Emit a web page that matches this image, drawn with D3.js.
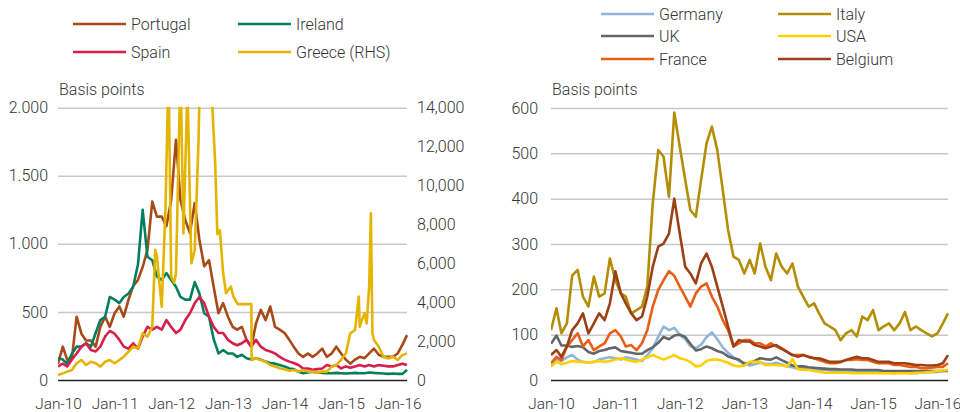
<!DOCTYPE html>
<html>
<head>
<meta charset="utf-8">
<style>
    body { margin: 0; background: #fff; }
    svg text { font-family: Roboto, "Open Sans", sans-serif; font-weight: 300; font-size: 16px; fill: #333; }
    svg .xaxis text { font-size: 15.4px; }
</style>
</head>
<body>
<svg id="chart" width="960" height="412"></svg>

<script src="https://cdnjs.cloudflare.com/ajax/libs/d3/7.8.5/d3.min.js"></script>
<script>
    // monthly observations, Jan-10 .. Mar-16
    const months = d3.timeMonth.range(new Date(2010, 0, 1), new Date(2016, 3, 1));

    // left panel (bp)
    const portugal = [120,245,150,160,465,340,290,290,245,390,465,390,490,540,465,590,690,735,830,955,
        1310,1200,1200,1130,1320,1765,1320,1175,1080,1300,1030,835,880,685,490,565,465,390,370,390,
        295,245,415,515,440,540,390,370,345,295,245,195,170,195,170,195,230,170,195,245,
        195,150,120,150,170,160,195,230,185,170,170,170,195,260,330];
    const ireland = [160,150,120,195,245,245,270,245,345,440,465,610,590,565,610,635,685,850,1250,905,
        880,760,735,785,735,685,610,590,590,720,635,490,465,300,195,220,195,195,170,185,
        160,150,160,150,135,125,120,110,100,85,80,60,50,55,60,55,52,50,50,52,
        50,48,50,52,50,50,55,52,50,48,45,48,45,45,75];
    const spain = [100,120,100,150,195,245,270,220,210,245,320,360,340,295,245,230,270,230,320,390,
        370,390,370,440,390,345,370,440,490,565,610,565,465,390,345,345,295,270,255,270,
        295,245,295,245,220,210,195,170,150,135,125,110,85,85,75,80,85,110,100,110,
        85,100,90,100,110,100,110,100,110,105,100,100,110,120,110];
    // Greece (RHS), own dates: spikes run off the top of the chart
    const greeceDates = ["2010-01-01","2010-02-01","2010-03-01","2010-04-01","2010-05-01","2010-06-01",
        "2010-07-01","2010-08-01","2010-09-01","2010-10-01","2010-11-01","2010-12-01",
        "2011-01-01","2011-02-01","2011-03-01","2011-04-01","2011-05-01","2011-06-01",
        "2011-07-01","2011-08-01","2011-09-01","2011-09-20","2011-10-01","2011-11-01",
        "2011-11-25","2011-12-15","2012-01-01","2012-01-20","2012-02-01","2012-03-01",
        "2012-03-20","2012-04-15","2012-05-10","2012-06-01","2012-06-25","2012-07-05",
        "2012-08-20","2012-09-10","2012-10-01","2012-10-10","2012-10-25","2012-11-10",
        "2012-12-01","2012-12-20","2013-01-01","2013-01-20","2013-02-05","2013-03-05",
        "2013-06-01","2013-06-03","2013-07-01","2013-08-01","2013-09-01","2013-10-01",
        "2013-11-01","2013-12-01","2014-01-01","2014-02-01","2014-03-01","2014-04-01",
        "2014-05-01","2014-06-01","2014-07-01","2014-08-01","2014-09-01","2014-10-01",
        "2014-11-01","2014-12-01","2015-01-01","2015-02-01","2015-03-01","2015-04-01",
        "2015-04-25","2015-05-01","2015-05-15","2015-06-01","2015-06-15","2015-07-01",
        "2015-07-12","2015-07-22","2015-08-01","2015-09-01","2015-10-01","2015-11-01",
        "2015-12-01","2016-01-01","2016-02-01","2016-03-01"];
    const greece = [260,340,430,515,860,1030,
        770,940,860,690,940,1030,
        860,1030,1200,1460,1710,1630,
        2400,2230,2740,6700,6340,3770,
        8740,16000,5310,5000,5480,16000,
        7540,15000,6000,6680,12170,16000,
        16000,16000,12700,11300,7500,7700,
        5500,4460,4600,4800,4290,3900,
        3900,1030,1110,1030,940,770,
        690,600,550,480,510,430,
        510,430,430,380,430,430,
        690,770,1030,1370,2400,2570,
        4290,2740,3090,3430,2910,4800,
        8570,2400,2060,1710,1200,1110,
        1200,1030,1290,1370];

    // right panel (bp)
    const germany = [30,45,42,50,55,45,40,38,40,45,48,50,48,45,50,48,45,42,55,70,
        95,118,110,115,100,90,75,70,78,95,105,90,72,60,50,42,38,32,35,38,
        36,35,38,34,30,28,25,26,25,23,22,22,21,20,20,20,19,19,18,18,
        18,17,16,16,15,16,16,15,15,16,17,17,18,20,22];
    const uk = [80,98,76,76,73,75,72,62,58,64,66,70,72,64,62,60,58,58,66,72,
        82,95,90,98,100,95,80,65,68,74,70,64,60,52,48,45,35,38,42,48,
        46,45,50,44,38,32,30,30,28,27,26,25,24,24,23,23,23,22,22,22,
        22,22,20,20,20,20,20,20,20,20,20,20,20,20,20];
    const france = [37,51,44,74,88,103,74,88,66,74,81,103,110,96,74,77,66,81,110,162,
        199,220,240,230,206,184,162,191,206,213,184,162,132,110,74,81,88,88,81,81,
        74,81,74,68,62,55,55,55,51,48,44,40,37,37,40,44,44,46,44,44,
        40,37,37,37,33,33,31,29,29,26,26,27,29,29,37];
    const italy = [110,158,103,125,230,243,184,162,228,184,191,268,220,191,184,147,154,162,206,390,
        507,493,404,590,515,441,375,360,441,522,559,507,419,331,272,265,235,265,235,301,
        250,220,279,250,235,257,206,184,162,169,147,125,118,110,88,103,110,96,140,132,
        154,110,118,125,110,125,150,110,118,110,103,96,103,125,147];
    const usa = [30,40,35,38,42,40,40,38,40,42,40,42,45,48,45,42,40,45,50,55,
        50,45,50,55,48,45,40,30,32,42,45,45,42,38,32,30,32,40,40,40,
        33,33,33,32,30,46,24,22,22,20,18,16,16,16,16,16,15,15,15,15,
        15,15,15,15,15,15,15,15,16,16,17,18,20,21,22];
    const belgium = [55,66,51,74,110,125,147,103,125,147,132,169,240,191,169,147,132,140,184,250,
        294,301,323,400,323,250,235,213,257,279,250,206,162,118,74,88,85,85,77,74,
        70,74,77,70,62,55,51,55,51,48,48,44,40,40,40,44,48,51,48,48,
        44,40,40,40,37,37,37,35,33,33,32,32,33,37,55];

    const leftTicks = [0, 500, 1000, 1500, 2000];
    const greeceTicks = [0, 2000, 4000, 6000, 8000, 10000, 12000, 14000];
    const rightTicks = [0, 100, 200, 300, 400, 500, 600];

    const leftSeries = [
        {name: "Portugal", values: portugal, color: "#a84a17"},
        {name: "Ireland", values: ireland, color: "#00805a"},
        {name: "Spain", values: spain, color: "#d61f4b"},
    ];
    const rightSeries = [
        {name: "Germany", values: germany, color: "#8fb5db"},
        {name: "UK", values: uk, color: "#666666"},
        {name: "France", values: france, color: "#ea5d14"},
        {name: "Italy", values: italy, color: "#b38e05"},
        {name: "USA", values: usa, color: "#ffd000"},
        {name: "Belgium", values: belgium, color: "#9c4015"},
    ];
    const greeceColor = "#e5b400";

    const svg = d3.select("#chart");
    const dotFormat = d3.formatLocale({decimal: ",", thousands: ".", grouping: [3], currency: ["", ""]}).format(",");
    const timeExtent = [months[0], months[months.length - 1]];

    function panel(id, x0, x1, yTop, yMax, ticks, fmt, pad) {
        const x = d3.scaleTime().domain(timeExtent).range([x0, x1]);
        const y = d3.scaleLinear().domain([0, yMax]).range([380, yTop]);
        const g = svg.append("g");

        g.append("clipPath").attr("id", id)
            .append("rect").attr("x", x0).attr("y", yTop - 1).attr("width", x1 - x0 + 4).attr("height", 380 - yTop + 6);

        // gridlines + left labels
        const ax = g.append("g").attr("transform", `translate(${x0},0)`)
            .call(d3.axisLeft(y).tickValues(ticks).tickFormat(fmt).tickSize(-(x1 - x0)).tickPadding(pad));
        ax.select(".domain").remove();
        ax.selectAll("line").attr("stroke", d => d === 0 ? "#222" : "#c8c8c8").attr("stroke-width", 1.5);
        ax.selectAll("text").attr("font-size", null).attr("font-family", null);

        const bx = g.append("g").attr("class", "xaxis").attr("transform", "translate(0,380)")
            .call(d3.axisBottom(x).ticks(d3.timeYear.every(1)).tickFormat(d3.timeFormat("%b-%y")).tickSize(0).tickPadding(18));
        bx.select(".domain").remove();
        bx.selectAll("text").attr("font-size", null).attr("font-family", null);

        g.append("text").attr("x", x0 + 1).attr("y", 95).text("Basis points");
        return {x, y, g};
    }

    function drawLines(p, clipId, series, dates) {
        const line = d3.line().x((d, i) => p.x(dates[i])).y(d => p.y(d));
        p.g.append("g").attr("clip-path", `url(#${clipId})`)
            .selectAll("path").data(series).join("path")
            .attr("d", s => line(s.values))
            .attr("fill", "none")
            .attr("stroke", s => s.color)
            .attr("stroke-width", 2.6)
            .attr("stroke-linejoin", "round");
    }

    // left panel
    const L = panel("clipL", 58, 407, 107.7, 2000, leftTicks, dotFormat, 10);
    drawLines(L, "clipL", leftSeries, months);
    const yG = d3.scaleLinear().domain([0, 14000]).range([380, 107.7]);
    const gr = L.g.append("g").attr("transform", "translate(407,0)")
        .call(d3.axisRight(yG).tickValues(greeceTicks).tickFormat(d3.format(",")).tickSize(0).tickPadding(10));
    gr.select(".domain").remove();
    gr.selectAll("text").attr("font-size", null).attr("font-family", null);
    const gDates = greeceDates.map(d3.timeParse("%Y-%m-%d"));
    L.g.append("path").attr("clip-path", "url(#clipL)")
        .attr("d", d3.line().x((d, i) => L.x(gDates[i])).y(d => yG(d))(greece))
        .attr("fill", "none").attr("stroke", greeceColor).attr("stroke-width", 2.6).attr("stroke-linejoin", "round");

    // right panel
    const R = panel("clipR", 551, 948, 108, 600, rightTicks, d3.format("d"), 13);
    drawLines(R, "clipR", rightSeries, months);

    // legends
    function legend(items, cols, rows) {
        const lg = svg.append("g");
        items.forEach((it, i) => {
            const c = Math.floor(i / rows.length), r = i % rows.length;
            const lx = cols[c], ly = rows[r];
            lg.append("line").attr("x1", lx).attr("x2", lx + 53).attr("y1", ly).attr("y2", ly)
                .attr("stroke", it.color).attr("stroke-width", 2.6);
            lg.append("text").attr("x", lx + 58).attr("y", ly).attr("dy", "0.36em").text(it.name);
        });
    }
    legend([leftSeries[0], leftSeries[2], leftSeries[1], {name: "Greece (RHS)", color: greeceColor}], [73, 238], [24, 52]);
    legend(rightSeries, [601, 778], [14, 36, 59]);
</script>
</body>
</html>
